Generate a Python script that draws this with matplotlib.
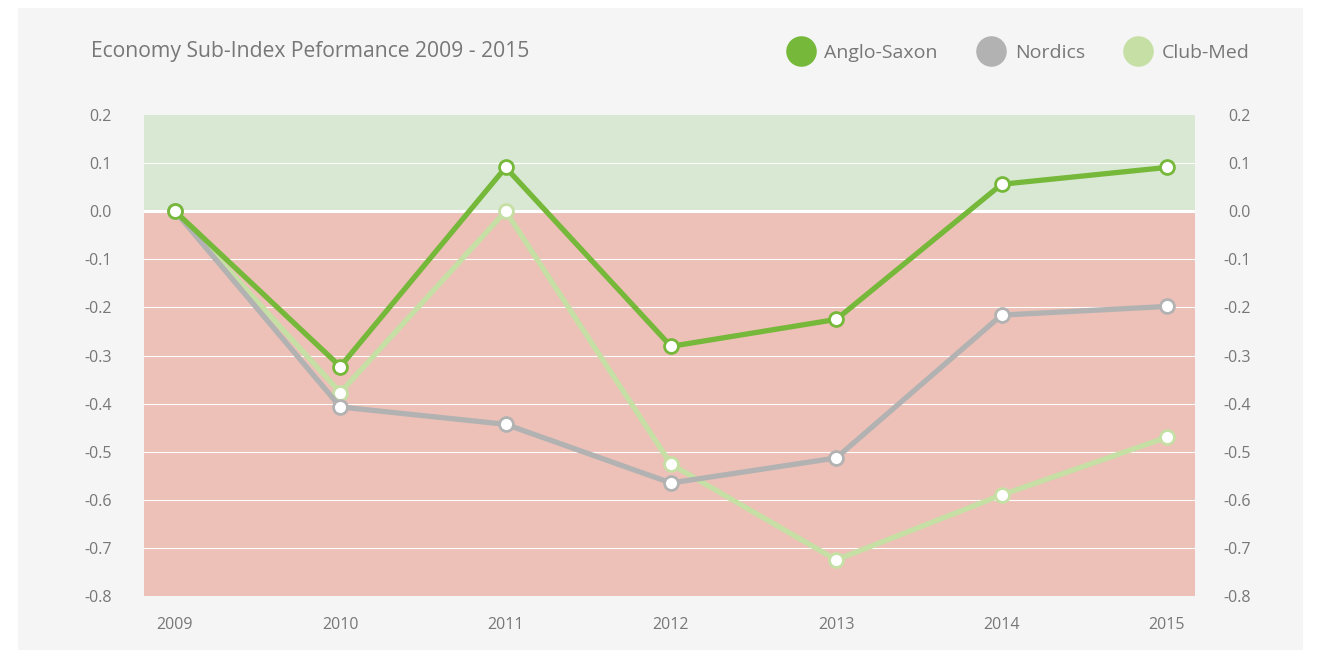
import numpy as np
import matplotlib.pyplot as plt
import matplotlib.transforms as mtransforms
from matplotlib.lines import Line2D
from matplotlib.patches import Rectangle

plt.rcParams['font.family'] = ['Open Sans', 'DejaVu Sans']

years = ['2009', '2010', '2011', '2012', '2013', '2014', '2015']
anglo_saxon = [0.0, -0.323, 0.091, -0.281, -0.225, 0.056, 0.091]
nordics = [0.0, -0.407, -0.443, -0.565, -0.513, -0.216, -0.198]
club_med = [0.0, -0.377, 0.0, -0.526, -0.725, -0.590, -0.470]

series = [
    ('Club-Med', club_med, '#c5dfa5'),
    ('Nordics', nordics, '#b2b2b2'),
    ('Anglo-Saxon', anglo_saxon, '#76b83a'),
]
text_col = '#777777'

fig = plt.figure(figsize=(13.2, 6.5), dpi=100, facecolor='white')
# light grey card behind the chart
fig.patches.append(Rectangle((18/1320, 0), (1303-18)/1320, (650-8)/650,
                             transform=fig.transFigure, facecolor='#f5f5f5',
                             edgecolor='none', zorder=-10))

ax = fig.add_axes([144/1320, 54/650, (1195-144)/1320, (596-115)/650])
ax.set_facecolor('none')
x = np.arange(len(years))
ax.set_xlim(-0.1875, 6.17)
ax.set_ylim(-0.8, 0.2)

# positive / negative bands
ax.axhspan(0, 0.2, color='#d9e8d2', zorder=0)
ax.axhspan(-0.8, 0, color='#edc1b7', zorder=0)
for yv in np.arange(-0.7, 0.2, 0.1):
    ax.axhline(yv, color='white', lw=0.8, zorder=1)
ax.axhline(0, color='white', lw=2.2, zorder=1)

for name, vals, col in series:
    ax.plot(x, vals, color=col, lw=3.8, marker='o', markersize=10,
            markerfacecolor='white', markeredgecolor=col, markeredgewidth=2,
            zorder=3, solid_capstyle='round')

for s in ax.spines.values():
    s.set_visible(False)
ax.set_xticks(x)
ax.set_xticklabels(years)
yt = np.round(np.arange(-0.8, 0.21, 0.1), 1)
ax.set_yticks(yt)
ax.set_yticklabels([f'{v:.1f}'.replace('-0.0', '0.0') for v in yt])
ax.tick_params(axis='both', length=0, colors=text_col, labelsize=11.5)
ax.tick_params(axis='x', pad=15)
ax.tick_params(axis='y', pad=23, labelright=True, right=False)

# right-hand labels are right-aligned too
offset = mtransforms.ScaledTranslation(24/100, 0, fig.dpi_scale_trans)
for t in ax.yaxis.get_major_ticks():
    t.label2.set_horizontalalignment('right')
    t.label2.set_transform(t.label2.get_transform() + offset)

fig.text(91/1320, 1 - 51/650, 'Economy Sub-Index Peformance 2009 - 2015',
         fontsize=15.2, color=text_col, va='center', ha='left')

handles = [Line2D([], [], ls='none', marker='o', markersize=22,
                  markerfacecolor=c, markeredgecolor='none')
           for _, _, c in series[::-1]]
labels = [n for n, _, _ in series[::-1]]
fig.legend(handles, labels, loc='center right', ncol=3, frameon=False,
           bbox_to_anchor=(1267/1320, 1 - 53/650), fontsize=14,
           labelcolor=text_col, handletextpad=0.5, columnspacing=2.05,
           handlelength=1.4)

fig.savefig('out.png', dpi=100, facecolor='white')
